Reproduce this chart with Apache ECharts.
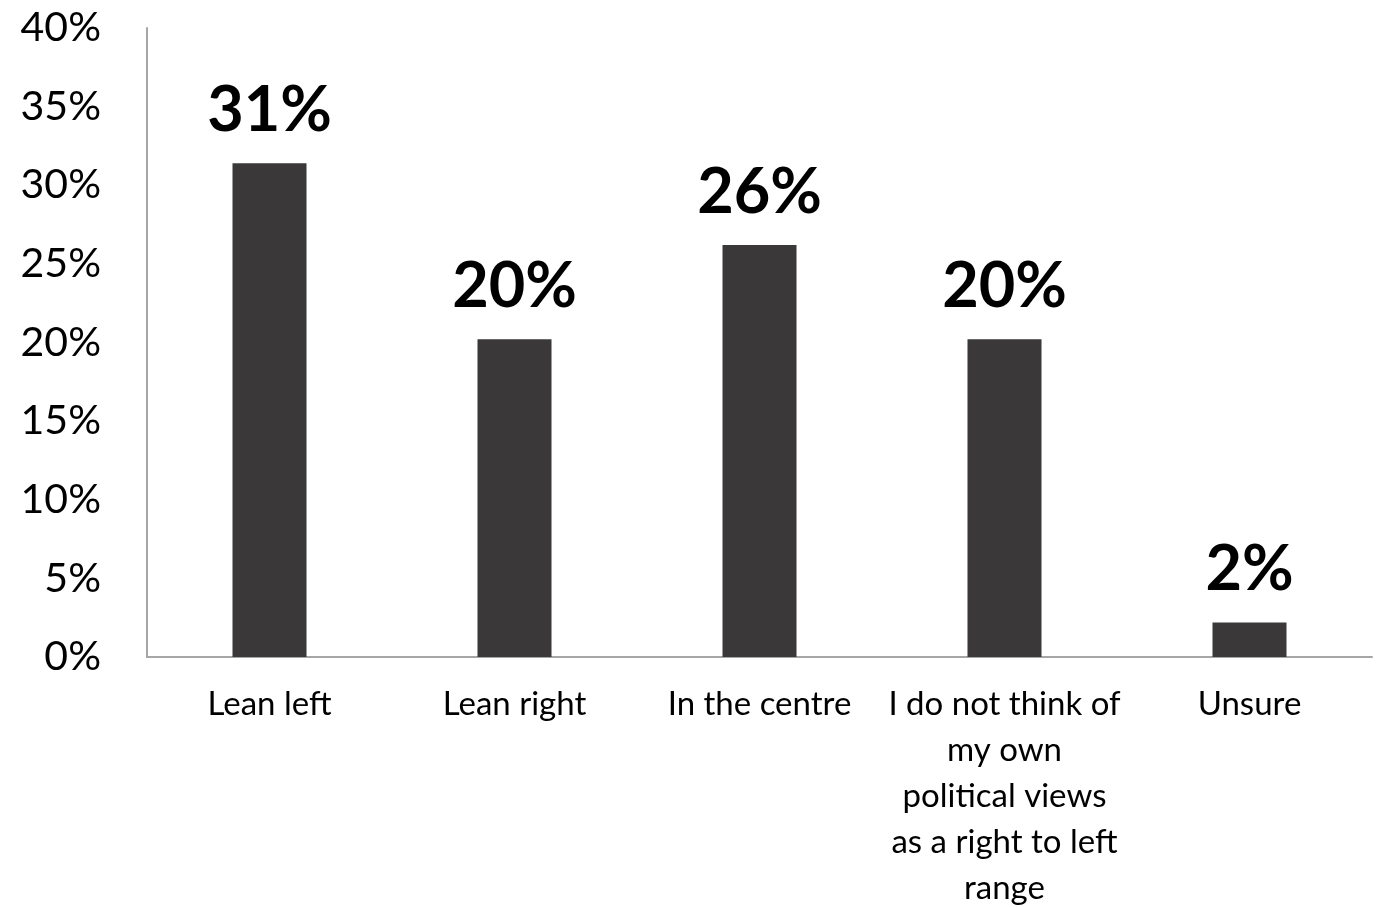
<!DOCTYPE html>
<html>
<head>
<meta charset="utf-8">
<script src="https://cdn.jsdelivr.net/npm/echarts@6/dist/echarts.min.js"></script>
<style>html,body{margin:0;padding:0;background:#fff;overflow:hidden}#c{width:1383px;height:907px}</style>
</head>
<body>
<div id="c"></div>
<script>
const categories = ["Lean left", "Lean right", "In the centre", "I do not think of\nmy own\npolitical views\nas a right to left\nrange", "Unsure"];
const values = [31.4, 20.2, 26.2, 20.2, 2.2];
const yTicks = { min: 0, max: 40, interval: 5 };

const chart = echarts.init(document.getElementById('c'));
chart.setOption({
  animation: false,
  grid: { left: 147, right: 11, top: 28, bottom: 250, containLabel: false, outerBoundsMode: 'none' },
  xAxis: {
    type: 'category',
    data: categories,
    axisLine: { lineStyle: { color: '#a6a6a6', width: 2 } },
    axisTick: { show: false },
    axisLabel: { color: '#000', fontFamily: 'Lato', fontSize: 33, lineHeight: 46, margin: 24, interval: 0 }
  },
  yAxis: {
    type: 'value',
    min: yTicks.min, max: yTicks.max, interval: yTicks.interval,
    axisLine: { show: true, lineStyle: { color: '#a6a6a6', width: 2 } },
    axisTick: { show: false },
    splitLine: { show: false },
    axisLabel: { color: '#000', fontFamily: 'Lato', fontSize: 41, margin: 46, formatter: v => v + '%' }
  },
  series: [{
    type: 'bar',
    data: values,
    barWidth: 74,
    itemStyle: { color: '#3b3839' },
    label: {
      show: true, position: 'top', distance: 21,
      color: '#000', fontFamily: 'Lato', fontWeight: 'bold', fontSize: 63,
      formatter: p => Math.round(p.value) + '%'
    }
  }]
});
</script>
</body>
</html>
